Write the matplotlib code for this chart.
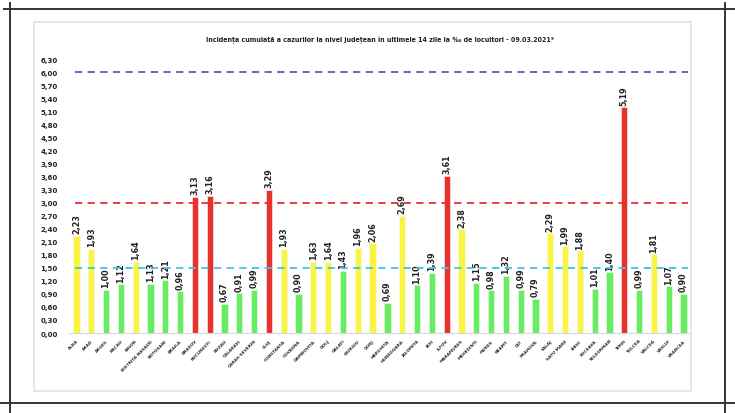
import matplotlib
matplotlib.use("Agg")
from matplotlib import pyplot as plt
from matplotlib.lines import Line2D
from matplotlib.patches import Rectangle

judete = ['ALBA', 'ARAD', 'ARGES', 'BACAU', 'BIHOR', 'BISTRITA NASAUD', 'BOTOSANI',
          'BRAILA', 'BRASOV', 'BUCURESTI', 'BUZAU', 'CALARASI', 'CARAS-SEVERIN', 'CLUJ',
          'CONSTANTA', 'COVASNA', 'DAMBOVITA', 'DOLJ', 'GALATI', 'GIURGIU', 'GORJ',
          'HARGHITA', 'HUNEDOARA', 'IALOMITA', 'IASI', 'ILFOV', 'MARAMURES', 'MEHEDINTI',
          'MURES', 'NEAMT', 'OLT', 'PRAHOVA', 'SALAJ', 'SATU MARE', 'SIBIU', 'SUCEAVA',
          'TELEORMAN', 'TIMIS', 'TULCEA', 'VALCEA', 'VASLUI', 'VRANCEA']
incidenta = [2.23, 1.93, 1.00, 1.12, 1.64, 1.13, 1.21, 0.96, 3.13, 3.16, 0.67, 0.91,
             0.99, 3.29, 1.93, 0.90, 1.63, 1.64, 1.43, 1.96, 2.06, 0.69, 2.69, 1.10,
             1.39, 3.61, 2.38, 1.15, 0.98, 1.32, 0.99, 0.79, 2.29, 1.99, 1.88, 1.01,
             1.40, 5.19, 0.99, 1.81, 1.07, 0.90]
praguri = [1.5, 3.0, 6.0]
y_ticks = [i * 0.3 for i in range(22)]


def culoare(v):
    if v >= 3.0:
        return '#E8302C'
    if v >= 1.5:
        return '#FAF542'
    return '#66EE60'


W, H = 735, 414
fig = plt.figure(figsize=(W / 100, H / 100), dpi=100)
fig.patch.set_facecolor('white')

# light inner frame and the black crop lines
fig.add_artist(Rectangle((34 / W, 1 - 392 / H), (691 - 34) / W, (392 - 23) / H,
                         transform=fig.transFigure, fill=False,
                         edgecolor='#E3E3E3', linewidth=1.2))
for (x0, y0, x1, y1) in [(4, 9.5, 735, 9.5), (0, 404, 735, 404),
                         (9.5, 4, 9.5, 414), (725, 4, 725, 414)]:
    fig.add_artist(Line2D([x0 / W, x1 / W], [1 - y0 / H, 1 - y1 / H],
                          transform=fig.transFigure, color='#333333', linewidth=1.4))

ax = fig.add_axes([69 / W, 1 - 334 / H, 622 / W, 274 / H])
x = range(len(judete))
ax.bar(x, incidenta, width=0.42, color=[culoare(v) for v in incidenta],
       edgecolor='#F5F5F5', linewidth=0.4, zorder=2)

for xi, v in zip(x, incidenta):
    ax.text(xi, v + 0.06, f'{v:.2f}'.replace('.', ','), rotation=90, ha='center',
            va='bottom', fontsize=5.8, fontweight='bold', color='#222222')

for p, c in zip(praguri, ['#3FC0EE', '#E8302C', '#7A4BB0']):
    ax.hlines(p, -0.1, 41.3, colors=c, linestyles=(0, (4, 3)), linewidth=1.3, zorder=3)

ax.set_xlim(-0.5, 41.5)
ax.set_ylim(0, 6.3)
ax.set_yticks(y_ticks)
ax.set_yticklabels([f'{t:.2f}'.replace('.', ',') for t in y_ticks],
                   fontsize=5, fontweight='bold', color='#222222')
ax.set_xticks(list(x))
ax.set_xticklabels(judete, rotation=45, ha='right', rotation_mode='anchor',
                   fontsize=3.1, fontweight='bold', color='#333333')
ax.tick_params(axis='both', length=0)
ax.tick_params(axis='y', pad=8)
ax.tick_params(axis='x', pad=4)
for s in ['top', 'right', 'left']:
    ax.spines[s].set_visible(False)
ax.spines['bottom'].set_color('#D9D9D9')
ax.spines['bottom'].set_linewidth(0.8)

fig.text(380 / W, 1 - 40 / H,
         'Incidența cumulată a cazurilor la nivel județean în ultimele 14 zile la ‰ de locuitori - 09.03.2021*',
         ha='center', va='center', fontsize=5.0, fontweight='bold', color='#222222',
         family=['DejaVu Sans Condensed', 'DejaVu Sans'], fontstretch='condensed')

fig.savefig('out.png', dpi=100)
